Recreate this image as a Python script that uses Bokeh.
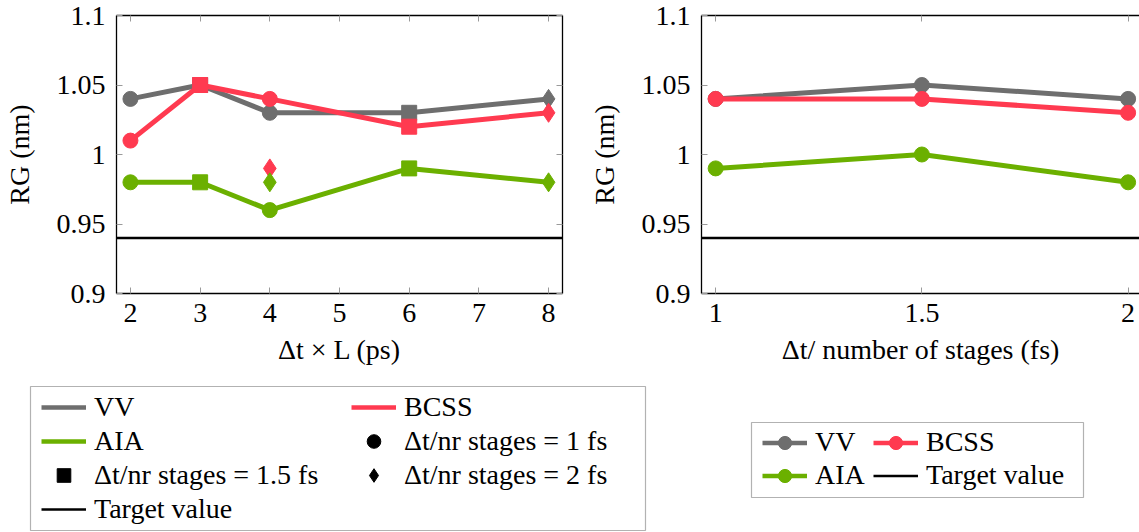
from bokeh.plotting import figure
from bokeh.models import (Range1d, FixedTicker, LinearAxis, Span, Legend, LegendItem,
                          ColumnDataSource, BoxAnnotation)
from bokeh.layouts import column, row
from bokeh.embed import file_html
from bokeh.resources import INLINE

# ---------------- data ----------------
L_ps = [2, 3, 4, 6, 8]                      # Δt × L (ps)
stage_fs = [1, 1.5, 1, 1.5, 2]              # Δt / nr stages of each point
vv_left = [1.04, 1.05, 1.03, 1.03, 1.04]
bcss_left = [1.01, 1.05, 1.04, 1.02, 1.03]
aia_left = [0.98, 0.98, 0.96, 0.99, 0.98]
extra_L = [4]
extra_stage = [2]
extra_bcss = [0.99]
extra_aia = [0.98]

dt_stage = [1, 1.5, 2]                      # Δt / number of stages (fs)
vv_right = [1.04, 1.05, 1.04]
bcss_right = [1.04, 1.04, 1.03]
aia_right = [0.99, 1.00, 0.98]

target = 0.94

y_ticks = [0.9, 0.95, 1.0, 1.05, 1.1]
y_tick_labels = ["0.9", "0.95", "1", "1.05", "1.1"]
xl_ticks = [2, 3, 4, 5, 6, 7, 8]
xr_ticks = [1, 1.5, 2]
xr_tick_labels = ["1", "1.5", "2"]

# ---------------- style ----------------
FONT = "Liberation Serif"
FS = "28px"
GRAY = "#6e6e6e"
RED = "#ff3a50"
GREEN = "#6bb000"
TICK = "#9a9a9a"
marker_of_stage = {1: "circle", 1.5: "square", 2: "diamond"}
size_of_marker = {"circle": 15, "square": 15, "diamond": 19}


def style_axis(ax, labels=True):
    ax.major_tick_in = 6
    ax.major_tick_out = 0
    ax.minor_tick_in = 0
    ax.minor_tick_out = 0
    ax.major_tick_line_color = TICK
    ax.major_tick_line_width = 1
    ax.axis_line_color = "black"
    ax.axis_line_width = 1.3
    ax.major_label_text_font = FONT
    if labels:
        ax.major_label_text_font_size = FS
        ax.major_label_text_color = "black"
    else:
        ax.major_label_text_font_size = "0px"
        ax.major_label_text_color = None
        ax.major_label_standoff = 0
    ax.axis_label_text_font = FONT
    ax.axis_label_text_font_size = FS
    ax.axis_label_text_font_style = "normal"
    ax.axis_label_text_color = "black"


def make_plot(width, left_border, right_border, xrange, xticks, xlabels, xlabel, mirror_right):
    p = figure(width=width, height=380, x_range=xrange, y_range=Range1d(0.9, 1.1),
               output_backend="svg", toolbar_location=None,
               min_border_left=left_border, min_border_right=right_border,
               min_border_top=15, min_border_bottom=87)
    p.outline_line_color = None
    p.grid.visible = False
    p.background_fill_color = "white"
    p.border_fill_color = "white"

    xa = p.xaxis[0]
    xa.ticker = FixedTicker(ticks=xticks)
    if xlabels is not None:
        xa.major_label_overrides = {t: s for t, s in zip(xticks, xlabels)}
    xa.axis_label = xlabel
    style_axis(xa)
    xa.major_label_standoff = 10
    xa.axis_label_standoff = 9

    ya = p.yaxis[0]
    ya.ticker = FixedTicker(ticks=y_ticks)
    ya.major_label_overrides = {t: s for t, s in zip(y_ticks, y_tick_labels)}
    ya.axis_label = "RG (nm)"
    style_axis(ya)
    ya.major_label_standoff = 11
    ya.axis_label_standoff = 19

    top = LinearAxis(ticker=FixedTicker(ticks=xticks))
    style_axis(top, labels=False)
    p.add_layout(top, "above")
    if mirror_right:
        right = LinearAxis(ticker=FixedTicker(ticks=y_ticks))
        style_axis(right, labels=False)
        p.add_layout(right, "right")

    p.add_layout(Span(location=target, dimension="width", line_color="black", line_width=2.5))
    return p


# ---------------- left panel ----------------
p1 = make_plot(585, 113, 23, Range1d(1.8, 8.2), xl_ticks, None, "Δt × L (ps)", True)
for vals, col in [(vv_left, GRAY), (bcss_left, RED), (aia_left, GREEN)]:
    mk = [marker_of_stage[s] for s in stage_fs]
    src = ColumnDataSource(dict(x=L_ps, y=vals, m=mk, s=[size_of_marker[m] for m in mk]))
    p1.line("x", "y", source=src, line_color=col, line_width=5)
    p1.scatter("x", "y", source=src, marker="m", size="s", fill_color=col, line_color=col)
for vals, col in [(extra_bcss, RED), (extra_aia, GREEN)]:
    mk = [marker_of_stage[s] for s in extra_stage]
    src = ColumnDataSource(dict(x=extra_L, y=vals, m=mk, s=[size_of_marker[m] for m in mk]))
    p1.scatter("x", "y", source=src, marker="m", size="s", fill_color=col, line_color=col)

# ---------------- right panel ----------------
p2 = make_plot(554, 108, 0, Range1d(0.9657, 2.0276), xr_ticks, xr_tick_labels,
               "Δt/ number of stages (fs)", False)
for vals, col in [(vv_right, GRAY), (bcss_right, RED), (aia_right, GREEN)]:
    p2.line(dt_stage, vals, line_color=col, line_width=5)
    p2.scatter(dt_stage, vals, marker="circle", size=15, fill_color=col, line_color=col)

# ---------------- legend strip (pixel coordinates) ----------------
LH = 152
lf = figure(width=1139, height=LH, x_range=Range1d(0, 1139), y_range=Range1d(0, LH),
            x_axis_location=None, y_axis_location=None,
            output_backend="svg", toolbar_location=None,
            min_border_left=0, min_border_right=0, min_border_top=0, min_border_bottom=0)
lf.grid.visible = False
lf.outline_line_color = None

lf.add_layout(BoxAnnotation(left=30, right=645, bottom=2, top=146, fill_color=None,
                            line_color="black", line_width=1.2))
lf.add_layout(BoxAnnotation(left=751, right=1083, bottom=35, top=110, fill_color=None,
                            line_color="black", line_width=1.2))

# legend proxies kept outside the visible range
OFF = dict(x=[-100], y=[-100])


def proxy_line(col, w):
    return lf.line(source=ColumnDataSource(OFF), x="x", y="y", line_color=col, line_width=w)


def proxy_marker(marker, col):
    return lf.scatter(source=ColumnDataSource(OFF), x="x", y="y", marker=marker, size=10,
                      fill_color=col, line_color=col)


def mk_legend(items, loc, gh):
    return Legend(items=items, location=loc, orientation="vertical",
                  label_text_font=FONT, label_text_font_size=FS, label_text_color="black",
                  glyph_width=45, glyph_height=gh, label_height=gh, label_standoff=8, spacing=0,
                  padding=0, margin=0, border_line_color=None, background_fill_alpha=0)


r_vv = proxy_line(GRAY, 4.5)
r_bc = proxy_line(RED, 4.5)
r_aia = proxy_line(GREEN, 4.5)
r_c = proxy_marker("circle", "black")
r_s = proxy_marker("square", "black")
r_d = proxy_marker("diamond", "black")
r_t = proxy_line("black", 2.5)
lf.add_layout(mk_legend([LegendItem(label="VV", renderers=[r_vv]),
                         LegendItem(label="AIA", renderers=[r_aia]),
                         LegendItem(label="Δt/nr stages = 1.5 fs", renderers=[r_s]),
                         LegendItem(label="Target value", renderers=[r_t])], (41, 6), 34))
lf.add_layout(mk_legend([LegendItem(label="BCSS", renderers=[r_bc]),
                         LegendItem(label="Δt/nr stages = 1 fs", renderers=[r_c]),
                         LegendItem(label="Δt/nr stages = 2 fs", renderers=[r_d])], (351, 40), 34))

q_vv = [proxy_line(GRAY, 4.5), proxy_marker("circle", GRAY)]
q_bc = [proxy_line(RED, 4.5), proxy_marker("circle", RED)]
q_aia = [proxy_line(GREEN, 4.5), proxy_marker("circle", GREEN)]
q_t = [proxy_line("black", 2.5)]
lf.add_layout(mk_legend([LegendItem(label="VV", renderers=q_vv),
                         LegendItem(label="AIA", renderers=q_aia)], (762, 40.5), 33))
lf.add_layout(mk_legend([LegendItem(label="BCSS", renderers=q_bc),
                         LegendItem(label="Target value", renderers=q_t)], (873, 40.5), 33))

layout = column(row(p1, p2), lf)
open("out.html", "w").write(file_html(layout, INLINE))
